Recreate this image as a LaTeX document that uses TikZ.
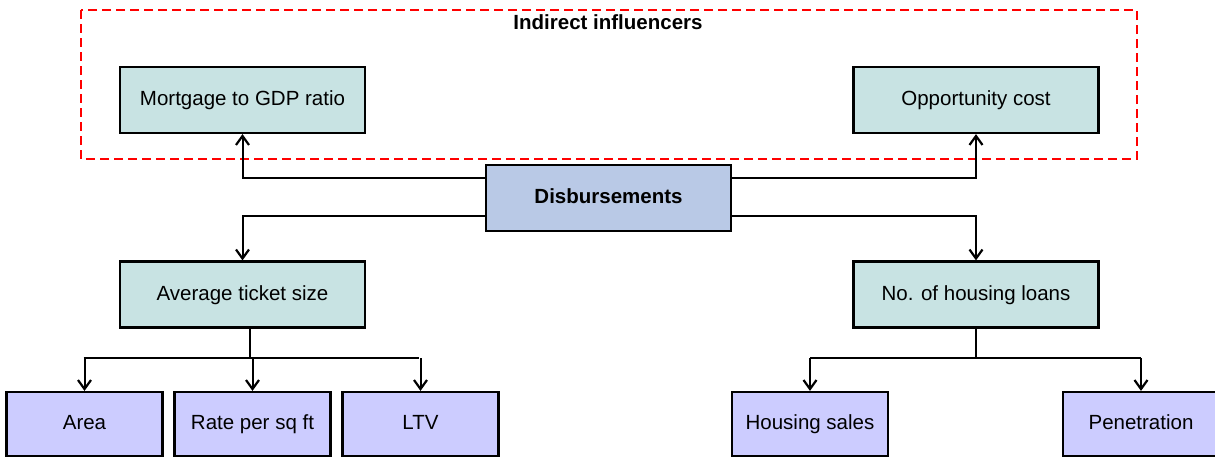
\documentclass[tikz,border=0pt]{standalone}
\usepackage{fontspec}
\setmainfont{Liberation Sans}
\usetikzlibrary{arrows.meta,calc}
\definecolor{tealbox}{HTML}{C8E3E3}
\definecolor{purplebox}{HTML}{CCCCFF}
\definecolor{bluebox}{HTML}{B9C9E6}
\tikzset{
  box/.style={draw=black, line width=2.2pt, minimum width=245pt, minimum height=66pt, inner sep=0pt,
    font=\fontsize{20.5}{24}\selectfont, text height=13pt, text depth=2pt},
  tealnode/.style={box, fill=tealbox},
  leafnode/.style={box, fill=purplebox, minimum width=156pt, minimum height=64pt},
  disbnode/.style={box, fill=bluebox, font=\fontsize{20.5}{24}\selectfont\bfseries},
  conn/.style={draw=black, line width=2pt},
  arr/.style={conn, -{Straight Barb[length=9pt,width=13pt,line width=2.2pt]}},
}
\begin{document}
\begin{tikzpicture}[x=1pt,y=-1pt]
\useasboundingbox (0,0) rectangle (1215,458);
\fill[white] (0,0) rectangle (1215,458);
% dashed group
\draw[red, line width=2.8pt, dash pattern=on 9pt off 5pt] (81,10) rectangle (1137,159);
\node[font=\fontsize{20.5}{24}\selectfont\bfseries] (title) at (608,22) {Indirect influencers};
% nodes
\node[tealnode] (mort) at (242.5,100) {Mortgage to GDP ratio};
\node[tealnode] (opp) at (976,100) {Opportunity cost};
\node[disbnode] (disb) at (608.5,198) {Disbursements};
\node[tealnode] (avg) at (242.5,294.5) {Average ticket size};
\node[tealnode] (num) at (976,294.5) {No. of housing loans};
\node[leafnode] (area) at (84.5,424) {Area};
\node[leafnode] (rate) at (252.5,424) {Rate per sq ft};
\node[leafnode] (ltv) at (420.5,424) {LTV};
\node[leafnode] (hs) at (810,424) {Housing sales};
\node[leafnode] (pen) at (1141,424) {Penetration};
% connectors from disbursements
\coordinate (dA) at ($(disb.north west)!0.2!(disb.south west)$);
\coordinate (dB) at ($(disb.north west)!0.76!(disb.south west)$);
\coordinate (dC) at ($(disb.north east)!0.2!(disb.south east)$);
\coordinate (dD) at ($(disb.north east)!0.76!(disb.south east)$);
\draw[arr] (dA) -| (mort.south);
\draw[arr] (dC) -| (opp.south);
\draw[arr] (dB) -| (avg.north);
\draw[arr] (dD) -| (num.north);
% left subtree
\coordinate (jl) at ([xshift=7pt]avg.south |- 0,358);
\draw[conn] ([xshift=7pt]avg.south) -- (jl);
\draw[conn] ($(area.north |- jl)+(-1,0)$) -- ($(ltv.north |- jl)+(-2,0)$);
\draw[arr] (area.north |- jl) -- (area.north);
\draw[arr] (rate.north |- jl) -- (rate.north);
\draw[arr] (ltv.north |- jl) -- (ltv.north);
% right subtree
\coordinate (jr) at (num.south |- 0,358);
\draw[conn] (num.south) -- (jr);
\draw[conn] (hs.north |- jr) -- (pen.north |- jr);
\draw[arr] (hs.north |- jr) -- (hs.north);
\draw[arr] (pen.north |- jr) -- (pen.north);
\end{tikzpicture}
\end{document}
